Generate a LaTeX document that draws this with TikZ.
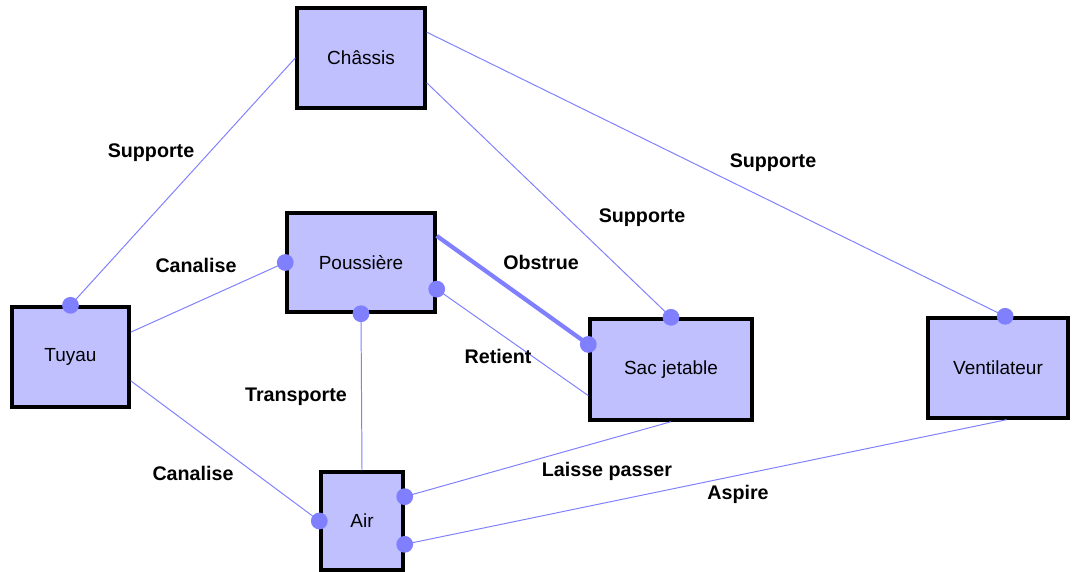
\documentclass[tikz,border=0pt]{standalone}
\usepackage{fontspec}
\setmainfont{Liberation Sans}
\usetikzlibrary{calc}
\definecolor{boxblue}{HTML}{C0C0FF}
\definecolor{linkblue}{HTML}{8080FF}
\begin{document}
\begin{tikzpicture}[
            x={(0.025cm,0cm)},
            y={(0cm,-0.025cm)},
            box/.style={draw=black, line width=2.4pt, fill=boxblue, inner sep=0pt,
                font=\fontsize{13.5}{15}\selectfont},
            link/.style={draw=linkblue, line width=0.7pt},
            point/.style={circle, fill=linkblue, inner sep=0pt, minimum size=0.42cm},
            lbl/.style={font=\bfseries\fontsize{14}{16}\selectfont, inner sep=1pt}
        ]
        \useasboundingbox (0,0) rectangle (1072,572);

        \node[box, minimum width=3.2cm, minimum height=2.5cm] (chassis) at (361,58) {Châssis};
        \node[box, minimum width=3.7cm, minimum height=2.475cm] (poussiere) at (361,262.5) {Poussière};
        \node[box, minimum width=2.925cm, minimum height=2.5cm] (tuyau) at (70.5,357) {Tuyau};
        \node[box, minimum width=4.05cm, minimum height=2.525cm] (sac) at (671,369.5) {Sac jetable};
        \node[box, minimum width=2.05cm, minimum height=2.45cm] (air) at (362,521) {Air};
        \node[box, minimum width=3.5cm, minimum height=2.5cm] (ventil) at (998,368) {Ventilateur};

        \coordinate (ch-e1) at ($(chassis.north east)!0.25!(chassis.south east)$);
        \coordinate (ch-e2) at ($(chassis.north east)!0.74!(chassis.south east)$);
        \coordinate (tu-e1) at ($(tuyau.north east)!0.26!(tuyau.south east)$);
        \coordinate (tu-e2) at ($(tuyau.north east)!0.73!(tuyau.south east)$);
        \coordinate (po-e1) at ($(poussiere.north east)!0.24!(poussiere.south east)$);
        \coordinate (po-e2) at ($(poussiere.north east)!0.76!(poussiere.south east)$);
        \coordinate (sa-w1) at ($(sac.north west)!0.26!(sac.south west)$);
        \coordinate (sa-w2) at ($(sac.north west)!0.75!(sac.south west)$);
        \coordinate (ai-e1) at ($(air.north east)!0.26!(air.south east)$);
        \coordinate (ai-e2) at ($(air.north east)!0.73!(air.south east)$);
        \coordinate (ve-n) at ($(ventil.north west)!0.55!(ventil.north east)$);
        \coordinate (ve-s) at ($(ventil.south west)!0.56!(ventil.south east)$);

        \draw[link] (chassis.west) -- (tuyau.north);
        \draw[link] (ch-e1) -- (ve-n);
        \draw[link] (ch-e2) -- (sac.north);
        \draw[link] (tu-e1) -- (poussiere.west);
        \draw[link] (tu-e2) -- (air.west);
        \draw[link, line width=3pt] (po-e1) -- (sa-w1);
        \draw[link] (sa-w2) -- (po-e2);
        \draw[link] (air.north) -- (poussiere.south);
        \draw[link] (sac.south) -- (ai-e1);
        \draw[link] (ve-s) -- (ai-e2);

        \node[point] at (tuyau.north) {};
        \node[point] at (ve-n) {};
        \node[point] at (sac.north) {};
        \node[point] at (poussiere.west) {};
        \node[point] at (air.west) {};
        \node[point] at (sa-w1) {};
        \node[point] at (po-e2) {};
        \node[point] at (poussiere.south) {};
        \node[point] at (ai-e1) {};
        \node[point] at (ai-e2) {};

        \node[lbl] (l-sup1) at (151,153) {Supporte};
        \node[lbl] (l-sup2) at (642,218) {Supporte};
        \node[lbl] (l-sup3) at (773,163) {Supporte};
        \node[lbl] (l-can1) at (196,265) {Canalise};
        \node[lbl] (l-can2) at (193,473) {Canalise};
        \node[lbl] (l-tra) at (296,397) {Transporte};
        \node[lbl] (l-obs) at (541,262) {Obstrue};
        \node[lbl] (l-ret) at (498,356) {Retient};
        \node[lbl] (l-lai) at (607,471) {Laisse passer};
        \node[lbl] (l-asp) at (738,494) {Aspire};
    \end{tikzpicture}
\end{document}
